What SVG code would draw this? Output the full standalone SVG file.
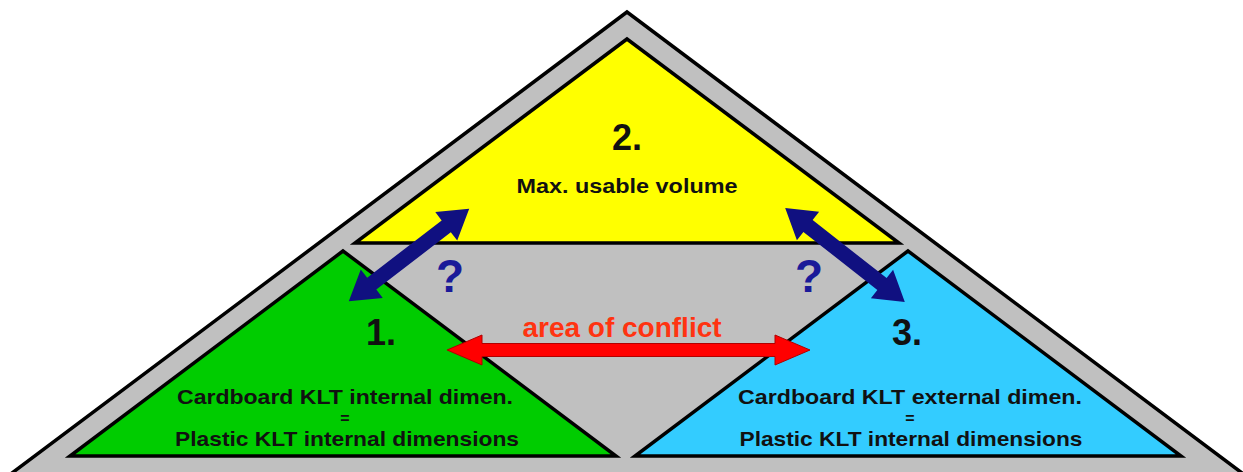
<svg xmlns="http://www.w3.org/2000/svg" width="1243" height="472" viewBox="0 0 1243 472">
<style>
.tri{stroke:#000;stroke-width:3.5;stroke-linejoin:miter}
.num{font-family:"Liberation Sans",Arial,sans-serif;font-weight:bold;font-size:36px;fill:#111;text-anchor:middle}
.lbl{font-family:"Liberation Sans",Arial,sans-serif;font-weight:bold;font-size:21px;fill:#111;text-anchor:middle}
.eq{font-family:"Liberation Sans",Arial,sans-serif;font-weight:bold;font-size:16px;fill:#111;text-anchor:middle}
.q{font-family:"Liberation Sans",Arial,sans-serif;font-weight:bold;font-size:46px;fill:#1a1a99;text-anchor:middle}
.conf{font-family:"Liberation Sans",Arial,sans-serif;font-weight:bold;font-size:28px;fill:#ff3311;text-anchor:middle}
</style>
<defs>
<path id="barrow" d="M-76,0 L-47,-18 L-47,-7.5 L47,-7.5 L47,-18 L76,0 L47,18 L47,7.5 L-47,7.5 L-47,18 Z" fill="#101080"/>
</defs>
<rect width="1243" height="472" fill="#fff"/>
<g id="frame">
<polygon class="tri" points="627,12 -12,491 1266,491" fill="#c0c0c0"/>
</g>
<g id="node2">
<polygon class="tri" points="627,39 355,243 899,243" fill="#ffff00"/>
<text class="num" x="627" y="150">2.</text>
<text class="lbl" x="627" y="193" textLength="221" lengthAdjust="spacingAndGlyphs">Max. usable volume</text>
</g>
<g id="node1">
<polygon class="tri" points="343,251 70,456 616,456" fill="#00cc00"/>
<text class="num" x="381" y="345">1.</text>
<text class="lbl" x="345" y="404" textLength="336" lengthAdjust="spacingAndGlyphs">Cardboard KLT internal dimen.</text>
<text class="eq" x="345" y="424">=</text>
<text class="lbl" x="347" y="446" textLength="344" lengthAdjust="spacingAndGlyphs">Plastic KLT internal dimensions</text>
</g>
<g id="node3">
<polygon class="tri" points="908,251 635,456 1181,456" fill="#33ccff"/>
<text class="num" x="907" y="345">3.</text>
<text class="lbl" x="910" y="404" textLength="344" lengthAdjust="spacingAndGlyphs">Cardboard KLT external dimen.</text>
<text class="eq" x="910" y="424">=</text>
<text class="lbl" x="911" y="446" textLength="343" lengthAdjust="spacingAndGlyphs">Plastic KLT internal dimensions</text>
</g>
<g id="connectors">
<use href="#barrow" transform="translate(409,255) rotate(-37.6)"/>
<use href="#barrow" transform="translate(845,255) rotate(38.1)"/>
<path d="M447,350 L482,335 L482,343.5 L775,343.5 L775,335 L810,350 L775,365 L775,356.5 L482,356.5 L482,365 Z" fill="#ff0000" stroke="#b00000" stroke-width="1"/>
<text class="q" x="450" y="292">?</text>
<text class="q" x="809" y="292">?</text>
<text class="conf" x="622" y="337">area of conflict</text>
</g>
</svg>
